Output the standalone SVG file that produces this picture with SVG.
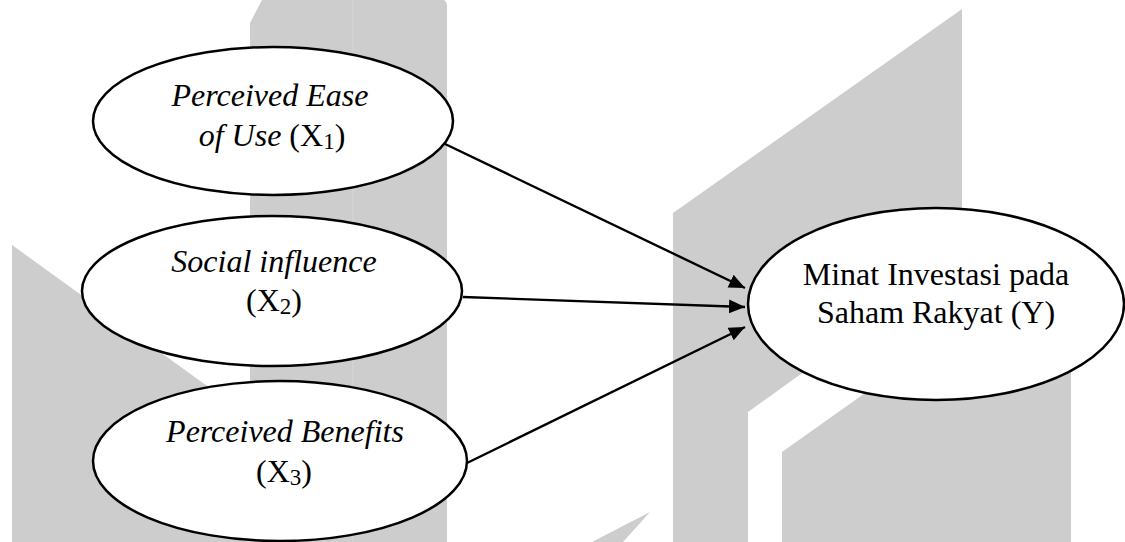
<svg xmlns="http://www.w3.org/2000/svg" width="1125" height="542" viewBox="0 0 1125 542">
<style>
.bg{fill:#cdcdcd}
.node ellipse{fill:#fff;stroke:#000;stroke-width:2.5}
.t{font-family:'Liberation Serif','Times New Roman',serif;font-size:32px;fill:#000;text-anchor:middle}
.i{font-style:italic}
.sub{font-size:23px}
.conn line{stroke:#000;stroke-width:2.4;marker-end:url(#ah)}
</style>
<defs>
<marker id="ah" markerWidth="18" markerHeight="16" refX="16" refY="7" orient="auto" markerUnits="userSpaceOnUse"><path d="M0,0 L16,7 L0,14 z" fill="#000"/></marker>
</defs>
<rect width="1125" height="542" fill="#fff"/>
<g id="watermark">
<path class="bg" d="M250,23 L262,0 L444,0 Q447,2 447,6 L447,542 L250,542 Z"/>
<line x1="353" y1="0" x2="353" y2="542" stroke="#d6d6d6" stroke-width="1"/>
<path class="bg" d="M12,245 L250,417 L250,542 L12,542 Z"/>
<path class="bg" d="M673,213 L962,9 L962,258 L748,412 L748,542 L673,542 Z"/>
<path class="bg" d="M782,452 L1071,247 L1071,542 L782,542 Z"/>
<path class="bg" d="M650,512 L592,542 L623,542 Z"/>
</g>
<g id="connectors" class="conn">
<line x1="443" y1="143" x2="745" y2="288"/>
<line x1="463" y1="297" x2="745" y2="307"/>
<line x1="467" y1="463" x2="745" y2="327"/>
</g>
<g id="x1" class="node">
<ellipse cx="273" cy="121" rx="180" ry="74"/>
<text class="t i" x="270" y="106">Perceived Ease</text>
<text class="t" x="272" y="146"><tspan class="i">of Use</tspan> (X<tspan class="sub" dy="3">1</tspan><tspan dy="-3">)</tspan></text>
</g>
<g id="x2" class="node">
<ellipse cx="272" cy="291" rx="190" ry="75"/>
<text class="t i" x="274" y="272">Social influence</text>
<text class="t" x="274" y="311">(X<tspan class="sub" dy="3">2</tspan><tspan dy="-3">)</tspan></text>
</g>
<g id="x3" class="node">
<ellipse cx="280" cy="461" rx="187" ry="80"/>
<text class="t i" x="285" y="442">Perceived Benefits</text>
<text class="t" x="284" y="482">(X<tspan class="sub" dy="3">3</tspan><tspan dy="-3">)</tspan></text>
</g>
<g id="y" class="node">
<ellipse cx="936" cy="304" rx="188" ry="96"/>
<text class="t" x="936" y="285">Minat Investasi pada</text>
<text class="t" x="936" y="323">Saham Rakyat (Y)</text>
</g>
</svg>
